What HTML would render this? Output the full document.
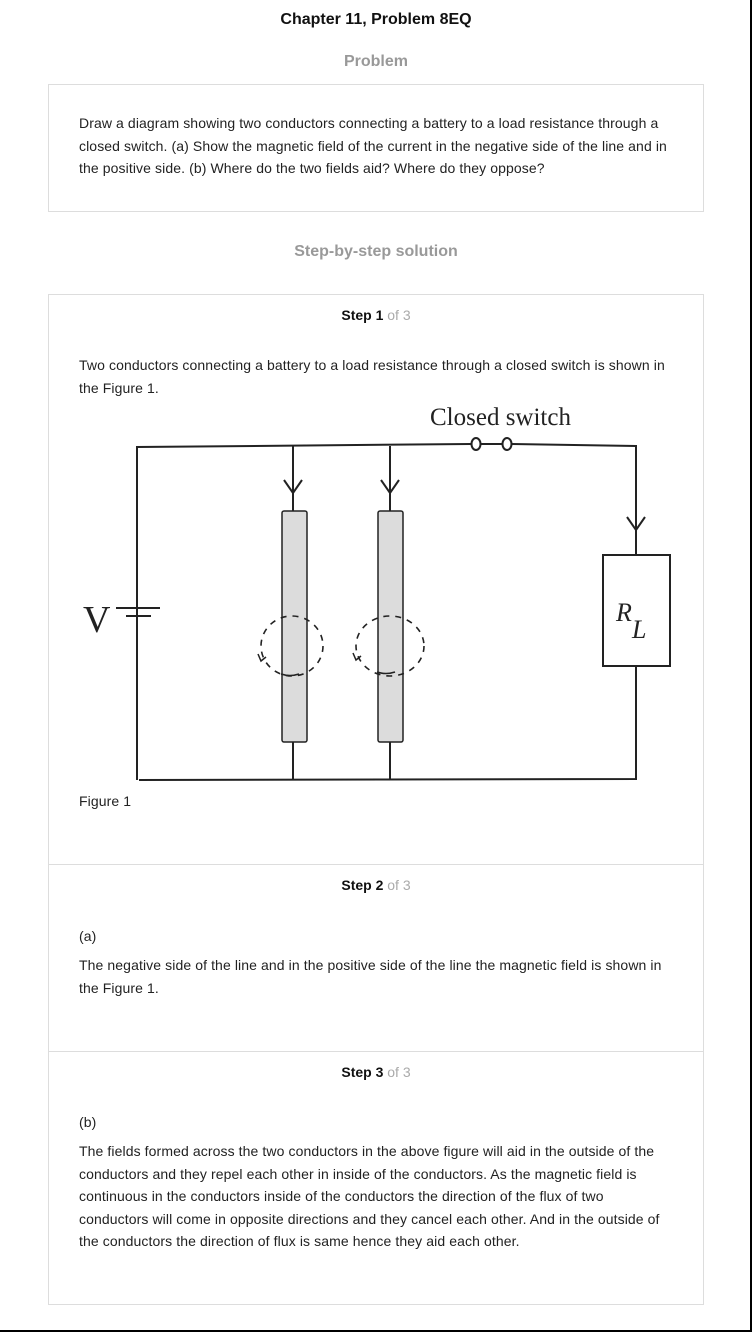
<!DOCTYPE html>
<html><head><style>
body{margin:0;background:#fff;font-family:"Liberation Sans",Arial,sans-serif;}
.page{position:relative;width:752px;height:1332px;overflow:hidden;}
.frame{position:absolute;left:0;top:0;width:750px;height:1330px;border-right:2px solid #000;border-bottom:2px solid #000;}
.abs{position:absolute;}
.t{font-size:14px;color:#222;line-height:22.5px;white-space:nowrap;letter-spacing:0.1px;}
.box{position:absolute;border:1px solid #ddd;}
.step{position:absolute;left:0;width:752px;text-align:center;font-size:14px;font-weight:bold;color:#111;}
.step span{color:#aaa;font-weight:normal;}
.h{position:absolute;left:0;width:752px;text-align:center;font-weight:bold;font-size:16px;}
</style></head><body><div class="page">
<div class="frame"></div>
<div class="h" style="top:11px;color:#111;">Chapter 11, Problem 8EQ</div>
<div class="h" style="top:53px;color:#999;">Problem</div>
<div class="box" style="left:48px;top:84px;width:654px;height:126px;"></div>
<div class="abs t" style="left:79px;top:112px;">Draw a diagram showing two conductors connecting a battery to a load resistance through a<br>closed switch. (a) Show the magnetic field of the current in the negative side of the line and in<br>the positive side. (b) Where do the two fields aid? Where do they oppose?</div>
<div class="h" style="top:243px;color:#999;">Step-by-step solution</div>
<div class="box" style="left:48px;top:294px;width:654px;height:1009px;"></div>
<div class="abs" style="left:49px;top:864px;width:654px;border-top:1px solid #ddd;"></div>
<div class="abs" style="left:49px;top:1051px;width:654px;border-top:1px solid #ddd;"></div>
<div class="step" style="top:307px;">Step 1 <span>of 3</span></div>
<div class="abs t" style="left:79px;top:354px;">Two conductors connecting a battery to a load resistance through a closed switch is shown in<br>the Figure 1.</div>
<svg class="abs" style="left:0;top:0" width="752" height="820">
<g stroke="#222" stroke-width="2" fill="none">
<polyline points="137,780 137,447 471,444"/>
<line x1="481" y1="444" x2="502" y2="444"/>
<polyline points="512,444 636,446 636,555"/>
<polyline points="636,667 636,779 139,780"/>
<ellipse cx="476" cy="444" rx="4.5" ry="6"/>
<ellipse cx="507" cy="444" rx="4.5" ry="6"/>
<line x1="293" y1="446" x2="293" y2="511"/><line x1="390" y1="446" x2="390" y2="511"/>
<line x1="293" y1="742" x2="293" y2="780"/><line x1="390" y1="742" x2="390" y2="780"/>
<polyline points="284,480 293,493 302,480"/>
<polyline points="381,480 390,493 399,480"/>
<polyline points="627,517 636,530 645,517"/>
<line x1="116" y1="608" x2="160" y2="608"/>
<line x1="126" y1="616" x2="151" y2="616"/>
</g>
<rect x="282" y="511" width="25" height="231" rx="2" fill="#dcdcdc" stroke="#222" stroke-width="1.5"/>
<rect x="378" y="511" width="25" height="231" rx="2" fill="#dcdcdc" stroke="#222" stroke-width="1.5"/>
<rect x="603" y="555" width="67" height="111" fill="#fff" stroke="#222" stroke-width="2"/>
<g stroke="#222" stroke-width="1.6" fill="none" stroke-dasharray="6,6">
<ellipse cx="292" cy="646" rx="31" ry="30"/>
<ellipse cx="390" cy="646" rx="34" ry="30"/>
</g>
<path d="M281,674 Q290,677 299,674 M377,672 Q386,675 395,672" stroke="#222" stroke-width="1.6" fill="none"/>
<path d="M258,654 l3,7 5,-4 M353,653 l3,7 5,-4" stroke="#222" stroke-width="1.5" fill="none"/>
<text x="430" y="425" font-family="Liberation Serif,serif" font-size="25" fill="#222">Closed switch</text>
<text x="83" y="632" font-family="Liberation Serif,serif" font-size="38" fill="#222">V</text>
<text x="616" y="621" font-family="Liberation Serif,serif" font-style="italic" font-size="26" fill="#222">R</text>
<text x="632" y="638" font-family="Liberation Serif,serif" font-style="italic" font-size="26" fill="#222">L</text>
</svg>
<div class="abs t" style="left:79px;top:790px;">Figure 1</div>
<div class="step" style="top:877px;">Step 2 <span>of 3</span></div>
<div class="abs t" style="left:79px;top:925px;">(a)</div>
<div class="abs t" style="left:79px;top:954px;">The negative side of the line and in the positive side of the line the magnetic field is shown in<br>the Figure 1.</div>
<div class="step" style="top:1064px;">Step 3 <span>of 3</span></div>
<div class="abs t" style="left:79px;top:1111px;">(b)</div>
<div class="abs t" style="left:79px;top:1140px;">The fields formed across the two conductors in the above figure will aid in the outside of the<br>conductors and they repel each other in inside of the conductors. As the magnetic field is<br>continuous in the conductors inside of the conductors the direction of the flux of two<br>conductors will come in opposite directions and they cancel each other. And in the outside of<br>the conductors the direction of flux is same hence they aid each other.</div>
</div></body></html>
